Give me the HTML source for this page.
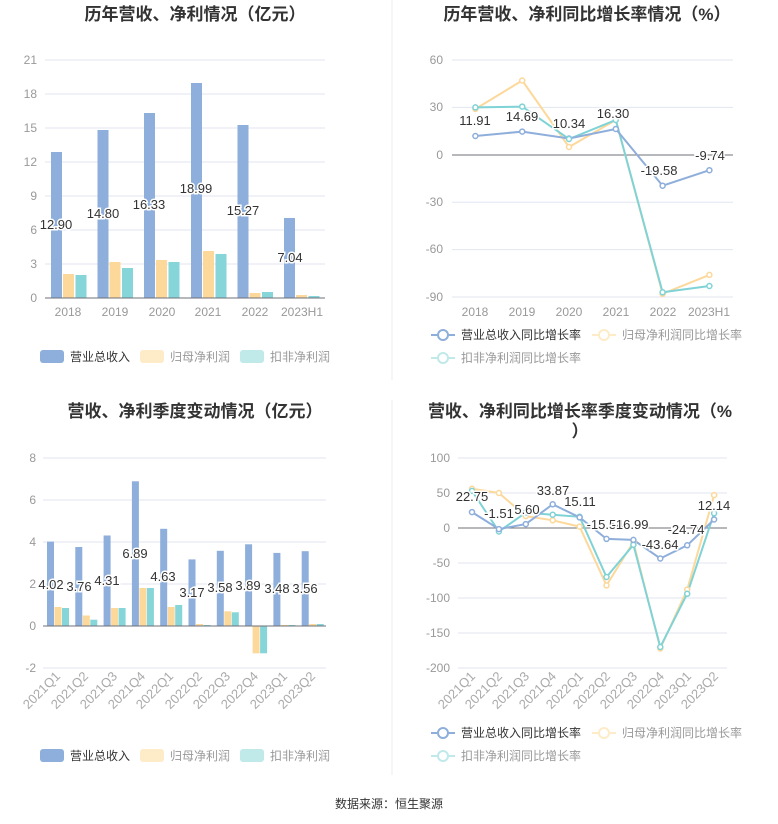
<!DOCTYPE html><html><head><meta charset="utf-8"><style>body{margin:0;background:#fff}svg{display:block;font-family:"Liberation Sans","Noto Sans CJK SC",sans-serif}</style></head><body>
<svg width="778" height="824" viewBox="0 0 778 824">
<g font-size="17" font-weight="bold" fill="#333" text-anchor="middle">
<text x="195" y="20">历年营收、净利情况（亿元）</text>
<text x="587" y="20">历年营收、净利同比增长率情况（%）</text>
<text x="195" y="417">营收、净利季度变动情况（亿元）</text>
<text x="580" y="417">营收、净利同比增长率季度变动情况（%</text>
<text x="580" y="437">）</text>
</g>
<line x1="392" y1="0" x2="392" y2="380" stroke="#eee"/>
<line x1="392" y1="400" x2="392" y2="775" stroke="#eee"/>
<!-- Chart1 -->
<g stroke="#e0e6f1"><line x1="45" x2="325" y1="60" y2="60"/><line x1="45" x2="325" y1="94" y2="94"/><line x1="45" x2="325" y1="128" y2="128"/><line x1="45" x2="325" y1="162" y2="162"/><line x1="45" x2="325" y1="196" y2="196"/><line x1="45" x2="325" y1="230" y2="230"/><line x1="45" x2="325" y1="264" y2="264"/></g>
<g font-size="12" fill="#999" text-anchor="end"><text x="37" y="64">21</text><text x="37" y="98">18</text><text x="37" y="132">15</text><text x="37" y="166">12</text><text x="37" y="200">9</text><text x="37" y="234">6</text><text x="37" y="268">3</text><text x="37" y="302">0</text></g>
<g fill="#8eaedb"><rect x="51" y="152" width="11" height="146"/><rect x="97.5" y="130" width="11" height="168"/><rect x="144" y="113" width="11" height="185"/><rect x="191" y="83" width="11" height="215"/><rect x="237.5" y="125" width="11" height="173"/><rect x="284" y="218" width="11" height="80"/></g>
<g fill="#fdd89b"><rect x="63" y="274" width="11" height="24"/><rect x="109.5" y="262" width="11" height="36"/><rect x="156" y="260" width="11" height="38"/><rect x="203" y="251" width="11" height="47"/><rect x="249.5" y="293" width="11" height="5"/><rect x="296" y="295" width="11" height="3"/></g>
<g fill="#86d5d8"><rect x="75.5" y="275" width="11" height="23"/><rect x="122" y="268" width="11" height="30"/><rect x="168.5" y="262" width="11" height="36"/><rect x="215.5" y="254" width="11" height="44"/><rect x="262" y="292" width="11" height="6"/><rect x="308.5" y="296" width="11" height="2"/></g>
<line x1="45" x2="325" y1="298" y2="298" stroke="#6e7079"/>
<g font-size="13" fill="#333" text-anchor="middle" stroke="#fff" stroke-width="3" paint-order="stroke"><text x="56" y="229">12.90</text><text x="103" y="218">14.80</text><text x="149" y="209">16.33</text><text x="196" y="193">18.99</text><text x="243" y="215">15.27</text><text x="290" y="262">7.04</text></g>
<g font-size="12" fill="#999" text-anchor="middle"><text x="68" y="316">2018</text><text x="115" y="316">2019</text><text x="162" y="316">2020</text><text x="208" y="316">2021</text><text x="255" y="316">2022</text><text x="302" y="316">2023H1</text></g>
<g font-size="12"><rect x="40" y="350" width="24" height="13" rx="3" fill="#8eaedb"/><text x="70" y="361" fill="#333">营业总收入</text><rect x="140" y="350" width="24" height="13" rx="3" fill="#feebc8"/><text x="170" y="361" fill="#999">归母净利润</text><rect x="240" y="350" width="24" height="13" rx="3" fill="#c0e9ea"/><text x="270" y="361" fill="#999">扣非净利润</text></g>
<!-- Chart2 -->
<g stroke="#e0e6f1"><line x1="452" x2="733" y1="60" y2="60"/><line x1="452" x2="733" y1="107.4" y2="107.4"/><line x1="452" x2="733" y1="202.2" y2="202.2"/><line x1="452" x2="733" y1="249.6" y2="249.6"/><line x1="452" x2="733" y1="297" y2="297"/></g>
<line x1="452" x2="733" y1="155" y2="155" stroke="#6e7079"/>
<g font-size="12" fill="#999" text-anchor="end"><text x="443" y="64">60</text><text x="443" y="111">30</text><text x="443" y="159">0</text><text x="443" y="206">-30</text><text x="443" y="253">-60</text><text x="443" y="301">-90</text></g>
<g font-size="12" fill="#999" text-anchor="middle"><text x="475" y="316">2018</text><text x="522" y="316">2019</text><text x="569" y="316">2020</text><text x="616" y="316">2021</text><text x="663" y="316">2022</text><text x="709" y="316">2023H1</text></g>
<g fill="#fff" stroke-width="2">
<polyline points="475.4,109 522.2,80.5 569,147 615.8,120 662.6,293.8 709.4,274.9" fill="none" stroke="#fdd89b"/>
<polyline points="475.4,107.4 522.2,106.6 569,139 615.8,120 662.6,292.3 709.4,286" fill="none" stroke="#7fd3d6"/>
<polyline points="475.4,136 522.2,131.6 569,138.5 615.8,129 662.6,185.7 709.4,170.2" fill="none" stroke="#8eaedb"/>
<g stroke="#8eaedb" stroke-width="1.5"><circle cx="475.4" cy="136" r="2.5"/><circle cx="522.2" cy="131.6" r="2.5"/><circle cx="569" cy="138.5" r="2.5"/><circle cx="615.8" cy="129" r="2.5"/><circle cx="662.6" cy="185.7" r="2.5"/><circle cx="709.4" cy="170.2" r="2.5"/></g>
<g stroke="#fdd89b" stroke-width="1.5"><circle cx="475.4" cy="109" r="2.5"/><circle cx="522.2" cy="80.5" r="2.5"/><circle cx="569" cy="147" r="2.5"/><circle cx="662.6" cy="293.8" r="2.5"/><circle cx="709.4" cy="274.9" r="2.5"/></g>
<g stroke="#7fd3d6" stroke-width="1.5"><circle cx="475.4" cy="107.4" r="2.5"/><circle cx="522.2" cy="106.6" r="2.5"/><circle cx="569" cy="139" r="2.5"/><circle cx="615.8" cy="120" r="2.5"/><circle cx="662.6" cy="292.3" r="2.5"/><circle cx="709.4" cy="286" r="2.5"/></g>
</g>
<g font-size="13" fill="#333" text-anchor="middle" stroke="#fff" stroke-width="3" paint-order="stroke"><text x="475" y="125">11.91</text><text x="522" y="121">14.69</text><text x="569" y="128">10.34</text><text x="613" y="118">16.30</text><text x="659" y="175">-19.58</text><text x="710" y="160">-9.74</text></g>
<g font-size="12"><line x1="431" x2="455" y1="335" y2="335" stroke="#8eaedb" stroke-width="2"/><circle cx="443" cy="335" r="5" fill="#fff" stroke="#8eaedb" stroke-width="2"/><text x="461" y="339" fill="#333">营业总收入同比增长率</text>
<line x1="592" x2="616" y1="335" y2="335" stroke="#feebc8" stroke-width="2"/><circle cx="604" cy="335" r="5" fill="#fff" stroke="#feebc8" stroke-width="2"/><text x="622" y="339" fill="#999">归母净利润同比增长率</text>
<line x1="431" x2="455" y1="358" y2="358" stroke="#c0e9ea" stroke-width="2"/><circle cx="443" cy="358" r="5" fill="#fff" stroke="#c0e9ea" stroke-width="2"/><text x="461" y="362" fill="#999">扣非净利润同比增长率</text></g>
<!-- Chart3 -->
<g stroke="#e0e6f1"><line x1="43" x2="326" y1="458" y2="458"/><line x1="43" x2="326" y1="500" y2="500"/><line x1="43" x2="326" y1="542" y2="542"/><line x1="43" x2="326" y1="584" y2="584"/><line x1="43" x2="326" y1="668" y2="668"/></g>
<g font-size="12" fill="#999" text-anchor="end"><text x="36" y="462">8</text><text x="36" y="504">6</text><text x="36" y="546">4</text><text x="36" y="588">2</text><text x="36" y="630">0</text><text x="36" y="672">-2</text></g>
<g fill="#8eaedb"><rect x="47" y="541.6" width="7" height="84.4"/><rect x="75.3" y="547" width="7" height="79"/><rect x="103.6" y="535.5" width="7" height="90.5"/><rect x="131.9" y="481.3" width="7" height="144.7"/><rect x="160.2" y="528.8" width="7" height="97.2"/><rect x="188.5" y="559.4" width="7" height="66.6"/><rect x="216.8" y="550.8" width="7" height="75.2"/><rect x="245.1" y="544.3" width="7" height="81.7"/><rect x="273.4" y="552.9" width="7" height="73.1"/><rect x="301.7" y="551.2" width="7" height="74.8"/></g>
<g fill="#fdd89b"><rect x="54.5" y="607" width="7" height="19"/><rect x="82.8" y="615.5" width="7" height="10.5"/><rect x="111.1" y="608" width="7" height="18"/><rect x="139.4" y="588" width="7" height="38"/><rect x="167.7" y="607" width="7" height="19"/><rect x="196" y="624" width="7" height="2"/><rect x="224.3" y="611.3" width="7" height="14.7"/><rect x="252.6" y="626" width="7" height="27.3"/><rect x="280.9" y="625" width="7" height="1"/><rect x="309.2" y="624" width="7" height="2"/></g>
<g fill="#86d5d8"><rect x="62" y="608" width="7" height="18"/><rect x="90.3" y="619.7" width="7" height="6.3"/><rect x="118.6" y="608" width="7" height="18"/><rect x="146.9" y="588" width="7" height="38"/><rect x="175.2" y="605" width="7" height="21"/><rect x="203.5" y="625" width="7" height="1"/><rect x="231.8" y="612.3" width="7" height="13.7"/><rect x="260.1" y="626" width="7" height="27.3"/><rect x="288.4" y="625" width="7" height="1"/><rect x="316.7" y="624" width="7" height="2"/></g>
<line x1="43" x2="326" y1="626" y2="626" stroke="#6e7079"/>
<g font-size="13" fill="#333" text-anchor="middle" stroke="#fff" stroke-width="3" paint-order="stroke"><text x="51" y="589">4.02</text><text x="79" y="591">3.76</text><text x="107" y="585">4.31</text><text x="135" y="558">6.89</text><text x="163" y="581">4.63</text><text x="192" y="597">3.17</text><text x="220" y="592">3.58</text><text x="248" y="590">3.89</text><text x="277" y="593">3.48</text><text x="305" y="593">3.56</text></g>
<g font-size="13" fill="#aaa" text-anchor="end"><text transform="translate(61,677) rotate(-45)">2021Q1</text><text transform="translate(89,677) rotate(-45)">2021Q2</text><text transform="translate(118,677) rotate(-45)">2021Q3</text><text transform="translate(146,677) rotate(-45)">2021Q4</text><text transform="translate(174,677) rotate(-45)">2022Q1</text><text transform="translate(203,677) rotate(-45)">2022Q2</text><text transform="translate(231,677) rotate(-45)">2022Q3</text><text transform="translate(259,677) rotate(-45)">2022Q4</text><text transform="translate(288,677) rotate(-45)">2023Q1</text><text transform="translate(316,677) rotate(-45)">2023Q2</text></g>
<g font-size="12"><rect x="40" y="749" width="24" height="13" rx="3" fill="#8eaedb"/><text x="70" y="760" fill="#333">营业总收入</text><rect x="140" y="749" width="24" height="13" rx="3" fill="#feebc8"/><text x="170" y="760" fill="#999">归母净利润</text><rect x="240" y="749" width="24" height="13" rx="3" fill="#c0e9ea"/><text x="270" y="760" fill="#999">扣非净利润</text></g>
<!-- Chart4 -->
<g stroke="#e0e6f1"><line x1="458" x2="727" y1="458" y2="458"/><line x1="458" x2="727" y1="493" y2="493"/><line x1="458" x2="727" y1="563" y2="563"/><line x1="458" x2="727" y1="598" y2="598"/><line x1="458" x2="727" y1="633" y2="633"/><line x1="458" x2="727" y1="668" y2="668"/></g>
<line x1="458" x2="727" y1="528" y2="528" stroke="#6e7079"/>
<g font-size="12" fill="#999" text-anchor="end"><text x="450" y="462">100</text><text x="450" y="497">50</text><text x="450" y="532">0</text><text x="450" y="567">-50</text><text x="450" y="602">-100</text><text x="450" y="637">-150</text><text x="450" y="672">-200</text></g>
<g font-size="13" fill="#aaa" text-anchor="end"><text transform="translate(476,677) rotate(-45)">2021Q1</text><text transform="translate(503,677) rotate(-45)">2021Q2</text><text transform="translate(530,677) rotate(-45)">2021Q3</text><text transform="translate(557,677) rotate(-45)">2021Q4</text><text transform="translate(584,677) rotate(-45)">2022Q1</text><text transform="translate(611,677) rotate(-45)">2022Q2</text><text transform="translate(638,677) rotate(-45)">2022Q3</text><text transform="translate(665,677) rotate(-45)">2022Q4</text><text transform="translate(692,677) rotate(-45)">2023Q1</text><text transform="translate(719,677) rotate(-45)">2023Q2</text></g>
<g fill="none" stroke-width="2">
<polyline points="472,488.8 498.9,493 525.8,516.1 552.7,520.3 579.6,526.6 606.5,585.4 633.4,542 660.3,648.4 687.2,589.6 714.1,495.1" stroke="#fdd89b"/>
<polyline points="472,490.9 498.9,531.5 525.8,512.6 552.7,514.7 579.6,516.8 606.5,577 633.4,544.8 660.3,647 687.2,593.8 714.1,513.3" stroke="#7fd3d6"/>
<polyline points="472,512.1 498.9,529.1 525.8,524.1 552.7,504.3 579.6,517.4 606.5,538.9 633.4,539.9 660.3,558.5 687.2,545.3 714.1,519.5" stroke="#8eaedb"/>
</g>
<g fill="#fff" stroke-width="1.5">
<g stroke="#fdd89b"><circle cx="472" cy="488.8" r="2.5"/><circle cx="498.9" cy="493" r="2.5"/><circle cx="525.8" cy="516.1" r="2.5"/><circle cx="552.7" cy="520.3" r="2.5"/><circle cx="579.6" cy="526.6" r="2.5"/><circle cx="606.5" cy="585.4" r="2.5"/><circle cx="633.4" cy="542" r="2.5"/><circle cx="660.3" cy="648.4" r="2.5"/><circle cx="687.2" cy="589.6" r="2.5"/><circle cx="714.1" cy="495.1" r="2.5"/></g>
<g stroke="#7fd3d6"><circle cx="472" cy="490.9" r="2.5"/><circle cx="498.9" cy="531.5" r="2.5"/><circle cx="525.8" cy="512.6" r="2.5"/><circle cx="552.7" cy="514.7" r="2.5"/><circle cx="579.6" cy="516.8" r="2.5"/><circle cx="606.5" cy="577" r="2.5"/><circle cx="633.4" cy="544.8" r="2.5"/><circle cx="660.3" cy="647" r="2.5"/><circle cx="687.2" cy="593.8" r="2.5"/><circle cx="714.1" cy="513.3" r="2.5"/></g>
<g stroke="#8eaedb"><circle cx="472" cy="512.1" r="2.5"/><circle cx="498.9" cy="529.1" r="2.5"/><circle cx="525.8" cy="524.1" r="2.5"/><circle cx="552.7" cy="504.3" r="2.5"/><circle cx="579.6" cy="517.4" r="2.5"/><circle cx="606.5" cy="538.9" r="2.5"/><circle cx="633.4" cy="539.9" r="2.5"/><circle cx="660.3" cy="558.5" r="2.5"/><circle cx="687.2" cy="545.3" r="2.5"/><circle cx="714.1" cy="519.5" r="2.5"/></g>
</g>
<g font-size="13" fill="#333" text-anchor="middle" stroke="#fff" stroke-width="3" paint-order="stroke"><text x="472" y="501">22.75</text><text x="499" y="518">-1.51</text><text x="527" y="514">5.60</text><text x="553" y="495">33.87</text><text x="580" y="506">15.11</text><text x="605" y="529">-15.54</text><text x="630" y="529">-16.99</text><text x="660" y="549">-43.64</text><text x="686" y="534">-24.74</text><text x="714" y="510">12.14</text></g>
<g font-size="12"><line x1="431" x2="455" y1="733" y2="733" stroke="#8eaedb" stroke-width="2"/><circle cx="443" cy="733" r="5" fill="#fff" stroke="#8eaedb" stroke-width="2"/><text x="461" y="737" fill="#333">营业总收入同比增长率</text>
<line x1="592" x2="616" y1="733" y2="733" stroke="#feebc8" stroke-width="2"/><circle cx="604" cy="733" r="5" fill="#fff" stroke="#feebc8" stroke-width="2"/><text x="622" y="737" fill="#999">归母净利润同比增长率</text>
<line x1="431" x2="455" y1="756" y2="756" stroke="#c0e9ea" stroke-width="2"/><circle cx="443" cy="756" r="5" fill="#fff" stroke="#c0e9ea" stroke-width="2"/><text x="461" y="760" fill="#999">扣非净利润同比增长率</text></g>
<text x="389" y="808" font-size="12" fill="#333" text-anchor="middle">数据来源：恒生聚源</text>
</svg></body></html>
